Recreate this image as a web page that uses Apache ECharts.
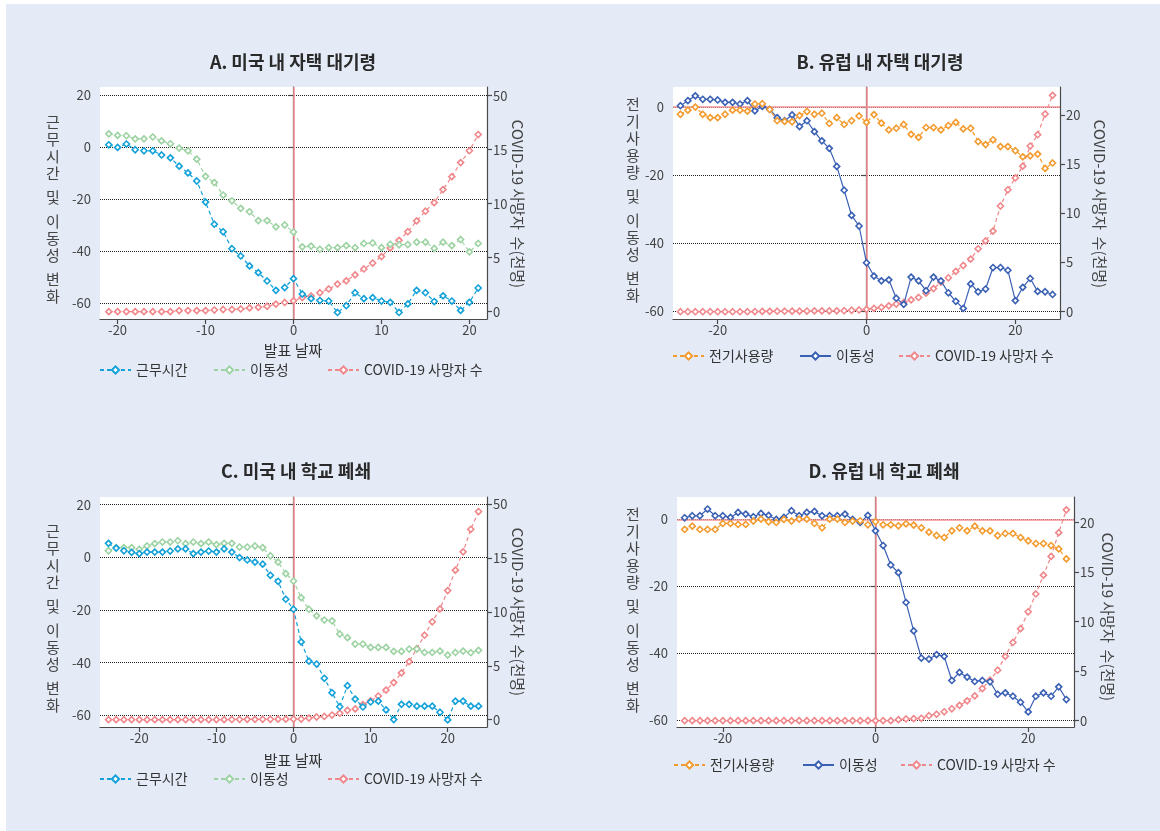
<!DOCTYPE html>
<html>
<head>
<meta charset="utf-8">
<script src="https://cdn.jsdelivr.net/npm/echarts@6/dist/echarts.min.js"></script>
<style>
html,body{margin:0;padding:0;background:#fff;}
#chart{width:1160px;height:831px;}
</style>
</head>
<body>
<div id="chart"></div>
<script>
// ---------------- DATA ----------------
function range(a, b) { const r = []; for (let i = a; i <= b; i++) r.push(i); return r; }

// Panel A: 미국 내 자택 대기령 (days -21..21)
const daysA = range(-21, 21);
const workA = [0.9,-0.1,1.2,-1.0,-1.4,-1.4,-3.0,-4.1,-7.3,-9.9,
  -13.0,-21.1,-29.6,-32.5,-39.0,-41.8,-45.6,-48.2,-51.4,-55.0,
  -53.9,-50.5,-56.4,-58.2,-58.9,-59.1,-63.5,-60.9,-55.9,-58.2,
  -57.8,-59.1,-59.6,-63.5,-60.2,-55.0,-55.9,-59.3,-57.1,-59.1,
  -62.7,-59.6,-54.1];
const mobilityA = [5.1,4.5,4.4,3.2,3.2,3.9,2.4,1.3,-0.4,-1.4,
  -4.6,-11.2,-13.6,-18.4,-20.6,-23.5,-24.8,-28.2,-28.2,-30.6,
  -29.9,-32.6,-38.3,-38.0,-39.2,-38.6,-38.6,-37.8,-38.6,-37.0,
  -36.8,-38.6,-37.3,-37.5,-37.4,-36.5,-36.5,-38.9,-36.5,-37.8,
  -35.5,-40.2,-37.0];
const deathsA = [0,0,0,0,0,0,0,0,0.1,0.1,
  0.1,0.1,0.15,0.2,0.2,0.25,0.35,0.4,0.5,0.7,
  0.85,1.0,1.3,1.45,1.75,2.1,2.55,2.85,3.4,3.95,
  4.5,5.1,5.9,6.6,7.4,8.4,9.3,10.1,11.3,12.5,
  13.8,14.9,16.4];

// Panel B: 유럽 내 자택 대기령 (days -25..25)
const daysB = range(-25, 25);
const elecB = [-2.2,-1.0,-0.1,-2.2,-3.2,-3.2,-2.2,-1.0,-1.0,-1.3,
  0.8,0.9,-0.8,-4.1,-4.3,-4.4,-2.6,-1.4,-2.2,-1.9,
  -4.9,-3.2,-5.2,-4.1,-2.7,-4.6,-2.3,-4.8,-6.8,-6.3,
  -5.2,-8.1,-9.0,-6.1,-6.1,-6.8,-5.5,-4.6,-6.5,-6.3,
  -10.2,-11.1,-9.7,-11.7,-11.7,-12.9,-14.7,-14.4,-13.9,-18.1,
  -16.5];
const mobilityB = [0.3,1.8,3.2,2.2,2.2,2.0,1.3,1.3,0.8,1.8,
  -1.2,0.1,-0.8,-3.2,-4.1,-2.4,-5.8,-4.1,-7.3,-10.0,
  -12.2,-17.5,-24.5,-31.9,-35.0,-45.8,-49.7,-51.1,-50.8,-56.2,
  -58.0,-50.0,-51.1,-54.0,-50.0,-51.1,-54.6,-57.1,-59.2,-52.0,
  -54.3,-53.5,-47.2,-47.2,-48.0,-56.9,-53.0,-50.4,-54.2,-54.3,
  -55.1];
const deathsB = [0,0,0,0,0,0,0,0,0,0,
  0.02,0.03,0.04,0.05,0.05,0.06,0.06,0.07,0.08,0.08,
  0.08,0.09,0.1,0.15,0.18,0.24,0.34,0.45,0.6,0.78,
  0.95,1.2,1.45,1.9,2.35,3.0,3.45,4.1,4.7,5.35,
  6.4,7.2,8.2,10.75,12.4,13.6,14.8,16.85,18.0,20.1,
  22.0];

// Panel C: 미국 내 학교 폐쇄 (days -24..24)
const daysC = range(-24, 24);
const workC = [5.3,3.5,2.5,1.9,1.4,2.0,2.0,2.0,2.4,3.2,
  3.2,1.4,2.0,2.4,2.0,3.2,2.0,-0.1,-1.0,-1.8,
  -2.6,-6.8,-9.1,-15.9,-19.7,-32.1,-39.4,-40.5,-45.9,-51.4,
  -56.7,-48.7,-53.8,-56.8,-54.9,-54.6,-57.9,-61.6,-55.8,-55.8,
  -56.5,-56.5,-56.5,-58.8,-61.7,-54.6,-54.6,-56.5,-56.5];
const mobilityC = [2.5,3.7,3.7,3.7,3.0,4.3,5.2,5.8,5.8,6.3,
  5.2,5.8,5.2,5.8,4.8,5.3,5.3,3.9,3.9,4.3,
  3.7,0.6,-1.8,-6.2,-9.0,-15.3,-19.7,-22.2,-23.8,-24.1,
  -29.1,-30.5,-32.9,-32.9,-34.2,-34.2,-34.2,-35.7,-35.7,-34.8,
  -34.8,-36.1,-36.1,-35.6,-37.1,-36.1,-35.6,-36.2,-35.3];
const deathsC = [0,0,0,0,0,0,0,0,0,0,
  0,0,0,0,0,0,0.02,0.02,0.03,0.03,
  0.04,0.04,0.05,0.05,0.06,0.06,0.15,0.25,0.3,0.43,
  0.6,0.87,1.0,1.4,1.75,2.2,2.75,3.45,4.35,5.4,
  6.6,7.85,9.1,10.3,12.0,13.9,15.6,17.7,19.35];

// Panel D: 유럽 내 학교 폐쇄 (days -25..25)
const daysD = range(-25, 25);
const elecD = [-3.0,-2.0,-3.0,-3.0,-3.0,-1.2,-1.2,-1.5,-1.5,-0.5,
  0.1,-0.7,-0.9,0.0,-0.5,0.1,0.1,-1.2,-2.5,0.1,
  0.1,-0.9,-0.5,-0.4,-1.6,-0.7,-1.6,-1.6,-1.9,-1.3,
  -1.7,-2.5,-3.8,-4.8,-5.4,-3.4,-2.5,-3.4,-2.0,-3.4,
  -3.4,-4.8,-4.2,-4.2,-5.4,-6.4,-7.2,-7.2,-7.8,-8.8,
  -11.8];
const mobilityD = [0.5,1.1,1.1,3.1,1.1,1.1,0.6,2.1,1.6,0.8,
  1.8,1.2,0.0,0.6,2.6,1.1,2.1,2.4,1.1,1.1,
  1.1,1.6,0.0,-0.9,1.2,-3.4,-7.8,-13.6,-15.9,-24.8,
  -33.3,-41.4,-41.7,-40.4,-40.9,-48.1,-45.7,-47.1,-48.4,-48.1,
  -48.5,-52.2,-51.8,-52.8,-54.6,-57.5,-52.8,-51.8,-52.8,-50.0,
  -53.8];
const deathsD = [0,0,0,0,0,0,0,0,0,0,
  0,0,0,0,0,0,0,0,0,0,
  0,0,0,0,0,0,0,0,0.1,0.17,
  0.2,0.24,0.5,0.65,0.9,1.2,1.55,2.0,2.5,3.25,
  4.1,5.1,6.5,7.9,9.3,11.0,12.8,14.7,16.6,19.0,
  21.3];

// tick values and labels
const xTicksUS = [-20, -10, 0, 10, 20];
const xTicksEU = [-20, 0, 20];
const leftTicksUS = [-60, -40, -20, 0, 20];
const leftTicksEU = [-60, -40, -20, 0];
const rightTicks = [0, 5, 10, 15, 20];
const rightLabelsUS = ['0', '5', '10', '15', '50'];
const rightLabelsEU = ['0', '5', '10', '15', '20'];

const titles = ['A. 미국 내 자택 대기령', 'B. 유럽 내 자택 대기령', 'C. 미국 내 학교 폐쇄', 'D. 유럽 내 학교 폐쇄'];
const nameWork = '근무시간', nameMob = '이동성', nameDeath = 'COVID-19 사망자 수', nameElec = '전기사용량';
const xAxisName = '발표 날짜';
const leftNameUS = ['근무시간', '및', '이동성', '변화'];
const leftNameEU = ['전기사용량', '및', '이동성', '변화'];
const rightName = 'COVID-19 사망자  수(천명)';

// ---------------- STYLE / LAYOUT ----------------
const FONT = '"Noto Sans CJK KR", "Noto Sans", sans-serif';
const C_WORK = '#12a1d8', C_MOBG = '#9dd3a3', C_DEATH = '#f0878b', C_ELEC = '#f39b2e', C_MOBB = '#3a60b4', C_REF = '#f39397';
const DASH = [4, 3];

const panels = [
  { key: 'A', grid: {left: 100, top: 87, width: 387, height: 232}, x: [-22, 22], xt: xTicksUS,
    yl: [-66, 23.1], ylt: leftTicksUS, yr: [-0.68, 20.8], rl: rightLabelsUS,
    lines: [[nameWork, daysA, workA, C_WORK, true, 0], [nameMob, daysA, mobilityA, C_MOBG, true, 0], [nameDeath, daysA, deathsA, C_DEATH, true, 1]],
    hline: false },
  { key: 'B', grid: {left: 673, top: 87, width: 387, height: 232}, x: [-26, 26], xt: xTicksEU,
    yl: [-62.3, 5.8], ylt: leftTicksEU, yr: [-0.74, 22.85], rl: rightLabelsEU,
    lines: [[nameElec, daysB, elecB, C_ELEC, true, 0], [nameMob, daysB, mobilityB, C_MOBB, false, 0], [nameDeath, daysB, deathsB, C_DEATH, true, 1]],
    hline: true },
  { key: 'C', grid: {left: 100, top: 497, width: 387, height: 230}, x: [-25.1, 25.1], xt: xTicksUS,
    yl: [-64.4, 22.9], ylt: leftTicksUS, yr: [-0.68, 20.7], rl: rightLabelsUS,
    lines: [[nameWork, daysC, workC, C_WORK, true, 0], [nameMob, daysC, mobilityC, C_MOBG, true, 0], [nameDeath, daysC, deathsC, C_DEATH, true, 1]],
    hline: false },
  { key: 'D', grid: {left: 677, top: 497, width: 397, height: 230}, x: [-26, 26], xt: xTicksEU,
    yl: [-62.0, 6.7], ylt: leftTicksEU, yr: [-0.64, 22.6], rl: rightLabelsEU,
    lines: [[nameElec, daysD, elecD, C_ELEC, true, 0], [nameMob, daysD, mobilityD, C_MOBB, false, 0], [nameDeath, daysD, deathsD, C_DEATH, true, 1]],
    hline: true }
];

const titlePos = [[293, 62], [880, 62], [296, 471], [884, 471]];
const leftNamePos = [[53, 209], [633, 200], [53, 618], [633, 610]];
const rightNamePos = [[518, 204], [1100, 204], [518, 612], [1108, 617]];
const xNamePos = [[293, 350], null, [293, 760], null];
const legendLeft = [[99, 213, 327], [672, 799, 898], [99, 213, 327], [673, 802, 900]];
const legendY = [372, 358, 781, 767];

const grids = [], xAxes = [], yAxes = [], series = [], legends = [], graphics = [];

// page background: lavender with white top/left margins
graphics.push({type: 'rect', shape: {x: 0, y: 0, width: 1160, height: 4}, style: {fill: '#fff'}, silent: true});
graphics.push({type: 'rect', shape: {x: 0, y: 0, width: 6, height: 831}, style: {fill: '#fff'}, silent: true});

const axisLineStyle = {color: '#4a4a4a', width: 1.2};
const labelStyle = {fontSize: 13, color: '#444', fontFamily: FONT};

panels.forEach((p, i) => {
  grids.push(Object.assign({show: true, backgroundColor: '#fff', borderWidth: 0}, p.grid));
  xAxes.push({
    type: 'value', gridIndex: i, min: p.x[0], max: p.x[1], position: 'bottom',
    axisLine: {show: true, onZero: false, lineStyle: axisLineStyle},
    axisTick: {show: true, length: 5, customValues: p.xt, lineStyle: axisLineStyle},
    axisLabel: Object.assign({customValues: p.xt, margin: 5}, labelStyle),
    splitLine: {show: false}
  });
  yAxes.push({
    type: 'value', gridIndex: i, min: p.yl[0], max: p.yl[1], position: 'left',
    axisLine: {show: true, lineStyle: axisLineStyle},
    axisTick: {show: true, length: 5, customValues: p.ylt, lineStyle: axisLineStyle},
    axisLabel: Object.assign({customValues: p.ylt, margin: 9}, labelStyle),
    splitLine: {show: true, lineStyle: {type: 'dotted', color: '#222', width: 1}}
  });
  const rl = p.rl;
  yAxes.push({
    type: 'value', gridIndex: i, min: p.yr[0], max: p.yr[1], position: 'right',
    axisLine: {show: true, lineStyle: axisLineStyle},
    axisTick: {show: true, length: 5, customValues: rightTicks, lineStyle: axisLineStyle},
    axisLabel: Object.assign({customValues: rightTicks, margin: 6,
      formatter: v => { const k = rightTicks.indexOf(Math.round(v)); return k >= 0 ? rl[k] : ''; }}, labelStyle),
    splitLine: {show: false}
  });

  p.lines.forEach((l, j) => {
    const [nm, days, vals, color, dashed, axisSide] = l;
    const s = {
      type: 'line', name: p.key + ':' + nm,
      xAxisIndex: i, yAxisIndex: i * 2 + axisSide,
      data: days.map((d, k) => [d, vals[k]]),
      symbol: 'diamond', symbolSize: 6, showAllSymbol: true,
      itemStyle: {color: '#fff', borderColor: color, borderWidth: 1.6},
      lineStyle: {color: color, width: 1.2, type: dashed ? DASH : 'solid'},
      z: 3 + (2 - j), animation: false, silent: true
    };
    if (j === 1) {
      const mk = [{xAxis: 0}];
      if (p.hline) mk.push({yAxis: 0});
      s.markLine = {silent: true, symbol: ['none', 'none'], label: {show: false},
        lineStyle: {color: C_REF, type: 'solid', width: 1.6}, data: mk, z: 1, animation: false};
    }
    series.push(s);
    legends.push({
      data: [p.key + ':' + nm], left: legendLeft[i][j], top: legendY[i] - 9, padding: 0,
      itemWidth: 31, itemHeight: 9, selectedMode: false,
      formatter: n => n.slice(2),
      textStyle: {fontSize: 14, color: '#333', fontFamily: FONT}
    });
  });

  // panel title
  graphics.push({type: 'text', x: titlePos[i][0], y: titlePos[i][1], silent: true,
    style: {text: titles[i], align: 'center', verticalAlign: 'middle', font: 'bold 18px ' + FONT, fill: '#2a2a2a'}});
  // right axis name (rotated clockwise)
  graphics.push({type: 'text', x: rightNamePos[i][0], y: rightNamePos[i][1], rotation: -Math.PI / 2, silent: true,
    style: {text: rightName, align: 'center', verticalAlign: 'middle', font: '15px ' + FONT, fill: '#444'}});
  // left axis name (upright stacked characters)
  const words = (i % 2 === 0) ? leftNameUS : leftNameEU;
  const LH = 17, GAP = 7;
  let nChars = 0; words.forEach(w => nChars += w.length);
  const total = nChars * LH + (words.length - 1) * GAP;
  let yy = leftNamePos[i][1] - total / 2;
  words.forEach((w, wi) => {
    for (const ch of w) {
      graphics.push({type: 'text', x: leftNamePos[i][0], y: yy + LH / 2, silent: true,
        style: {text: ch, align: 'center', verticalAlign: 'middle', font: '15px ' + FONT, fill: '#444'}});
      yy += LH;
    }
    yy += GAP;
  });
  if (xNamePos[i]) {
    graphics.push({type: 'text', x: xNamePos[i][0], y: xNamePos[i][1], silent: true,
      style: {text: xAxisName, align: 'center', verticalAlign: 'middle', font: '15px ' + FONT, fill: '#333'}});
  }
});

const chart = echarts.init(document.getElementById('chart'), null, {renderer: 'canvas'});
chart.setOption({
  backgroundColor: '#e4ebf7',
  animation: false,
  textStyle: {fontFamily: FONT},
  grid: grids, xAxis: xAxes, yAxis: yAxes, series: series, legend: legends,
  graphic: {elements: graphics}
});
</script>
</body>
</html>
